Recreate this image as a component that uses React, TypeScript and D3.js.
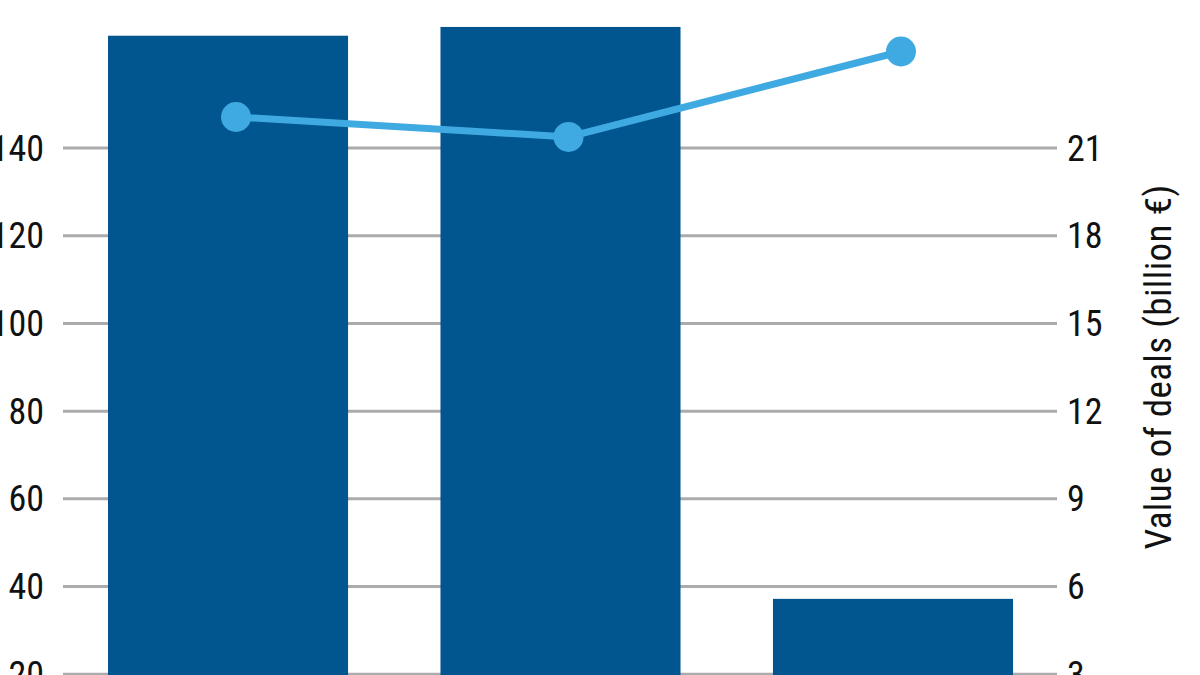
import React, { useEffect, useRef } from 'react'
import * as d3 from 'd3'

// categories are cut off in the picture, only the order matters
const categories = ['2016', '2017', '2018']
const dealCounts = [165.6, 167.6, 37.2]
const dealValues = [22.06, 21.38, 24.3]
const leftTicks = [0, 20, 40, 60, 80, 100, 120, 140]
const rightTicks = [0, 3, 6, 9, 12, 15, 18, 21]
const rightTitle = 'Value of deals (billion €)'

const FONT = '"Liberation Sans Narrow", "Arial Narrow", "Roboto Condensed", sans-serif'

const App = () => {
  const width = 1200
  const height = 675
  const refSvg = useRef(null)

  const draw = () => {
    const svg = d3.select(refSvg.current)
    svg.selectAll('*').remove()

    const yLeft = d3.scaleLinear().domain([0, 140]).range([762, 148])
    const yRight = d3.scaleLinear().domain([0, 21]).range([762, 148])
    const x = d3.scaleBand().domain(categories).range([108, 1013]).paddingInner(0.278).paddingOuter(0)

    // grid
    svg
      .append('g')
      .selectAll('line')
      .data(leftTicks)
      .enter()
      .append('line')
      .attr('x1', 63)
      .attr('x2', 1057)
      .attr('y1', (d) => yLeft(d))
      .attr('y2', (d) => yLeft(d))
      .attr('stroke', '#ababab')
      .attr('stroke-width', 3)

    // left labels
    svg
      .append('g')
      .selectAll('text')
      .data(leftTicks)
      .enter()
      .append('text')
      .attr('x', 44)
      .attr('y', (d) => yLeft(d))
      .attr('dy', '0.35em')
      .attr('text-anchor', 'end')
      .style('font-family', FONT)
      .style('font-size', '36px')
      .style('fill', '#111')
      .text((d) => d)

    // right labels
    svg
      .append('g')
      .selectAll('text')
      .data(rightTicks)
      .enter()
      .append('text')
      .attr('x', 1067)
      .attr('y', (d) => yRight(d))
      .attr('dy', '0.35em')
      .attr('text-anchor', 'start')
      .style('font-family', FONT)
      .style('font-size', '36px')
      .style('fill', '#111')
      .text((d) => d)

    svg
      .append('text')
      .attr('transform', `translate(1171,367) rotate(-90)`)
      .attr('text-anchor', 'middle')
      .style('font-family', FONT)
      .style('font-size', '37px')
      .style('letter-spacing', '0.4px')
      .style('fill', '#111')
      .text(rightTitle)

    // bars
    svg
      .append('g')
      .selectAll('rect')
      .data(dealCounts)
      .enter()
      .append('rect')
      .attr('x', (d, i) => x(categories[i]) as number)
      .attr('y', (d) => yLeft(d))
      .attr('width', x.bandwidth())
      .attr('height', (d) => yLeft(0) - yLeft(d))
      .style('fill', '#02568f')

    // line
    const cx = (i: number) => (x(categories[i]) as number) + x.bandwidth() / 2 + 8
    const line = d3
      .line<number>()
      .x((d, i) => cx(i))
      .y((d) => yRight(d))

    svg
      .append('path')
      .datum(dealValues)
      .attr('d', line)
      .attr('fill', 'none')
      .attr('stroke', '#3fa9e1')
      .attr('stroke-width', 7)

    svg
      .append('g')
      .selectAll('circle')
      .data(dealValues)
      .enter()
      .append('circle')
      .attr('cx', (d, i) => cx(i))
      .attr('cy', (d) => yRight(d))
      .attr('r', 15)
      .style('fill', '#3fa9e1')
  }

  useEffect(() => {
    if (refSvg) {
      draw()
    }
  })

  return (
    <svg
      ref={refSvg}
      width={width}
      height={height}
      style={{ position: 'absolute', left: 0, top: 0, background: '#fff', display: 'block' }}
    />
  )
}

export default App
